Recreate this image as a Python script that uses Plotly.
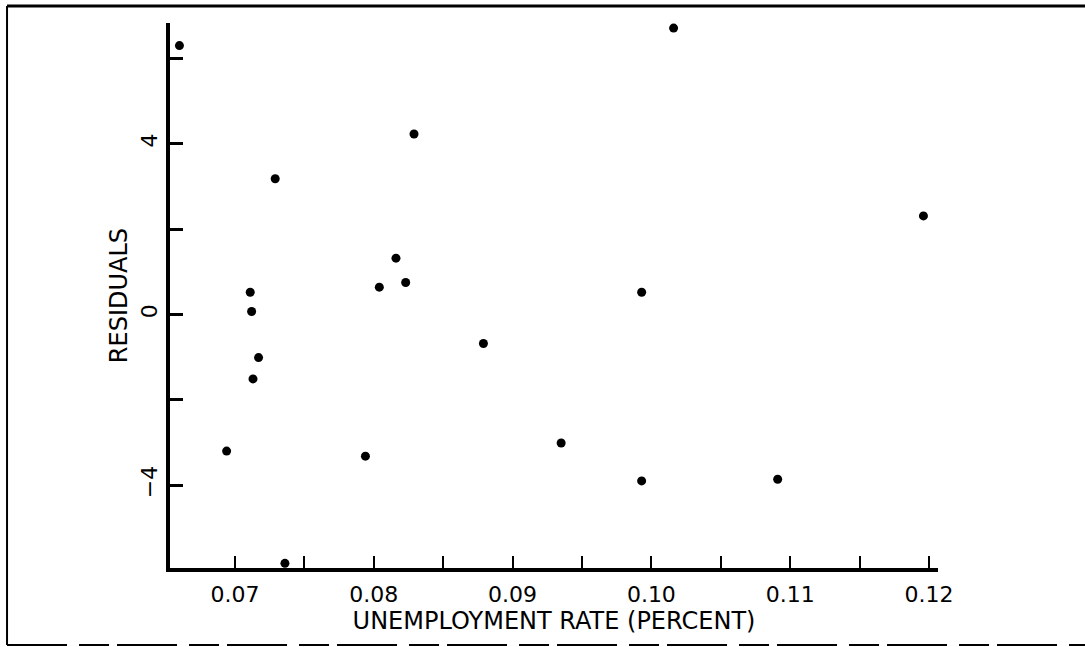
import plotly.graph_objects as go

# Data
unemployment_rate = [0.0660, 0.0729, 0.0829, 0.0816, 0.0804, 0.0823, 0.0711, 0.0712,
                     0.0717, 0.0713, 0.0694, 0.0794, 0.0879, 0.0736, 0.1016, 0.0993,
                     0.0935, 0.0993, 0.1091, 0.1196]
residuals = [6.30, 3.18, 4.23, 1.32, 0.64, 0.75, 0.52, 0.07,
             -1.01, -1.51, -3.20, -3.32, -0.68, -5.83, 6.71, 0.52,
             -3.01, -3.90, -3.86, 2.31]

x_tickvals = [0.07, 0.075, 0.08, 0.085, 0.09, 0.095, 0.10, 0.105, 0.11, 0.115, 0.12]
x_ticktext = ["0.07", "", "0.08", "", "0.09", "", "0.10", "", "0.11", "", "0.12"]
y_tickvals = [-4, -2, 0, 2, 4, 6]
y_ticktext = ["\u22124", "", "0", "", "4", ""]

FONT = "DejaVu Sans"

fig = go.Figure()
fig.add_trace(go.Scatter(
    x=unemployment_rate, y=residuals, mode="markers",
    marker=dict(size=9, color="black", line=dict(width=0)),
    cliponaxis=False, showlegend=False, hoverinfo="skip",
))

fig.update_layout(
    width=1085, height=647, autosize=False,
    margin=dict(l=170, r=147, t=23, b=79, pad=0),
    paper_bgcolor="white", plot_bgcolor="white",
    font=dict(family=FONT, color="black"),
    xaxis=dict(
        range=[0.06532, 0.12065], tickmode="array",
        tickvals=x_tickvals, ticktext=x_ticktext,
        ticks="inside", ticklen=12, tickwidth=2, tickcolor="black",
        showline=True, linewidth=4, linecolor="black",
        showgrid=False, zeroline=False,
        tickfont=dict(family=FONT, size=22, color="black"),
        ticklabelstandoff=4,
        title=dict(text="UNEMPLOYMENT RATE (PERCENT)",
                   font=dict(family=FONT, size=24, color="black"), standoff=2),
    ),
    yaxis=dict(
        range=[-5.94, 6.83], tickmode="array",
        tickvals=y_tickvals, ticktext=y_ticktext, tickangle=-90,
        ticks="inside", ticklen=13, tickwidth=3, tickcolor="black",
        showline=True, linewidth=4, linecolor="black",
        showgrid=False, zeroline=False,
        tickfont=dict(family=FONT, size=22, color="black"),
        ticklabelstandoff=0,
        title=dict(text="RESIDUALS",
                   font=dict(family=FONT, size=24, color="black"), standoff=4),
    ),
    shapes=[
        dict(type="line", xref="paper", yref="paper", x0=-0.2122, x1=1.20,
             y0=1.0312, y1=1.0312, line=dict(color="black", width=3)),
        dict(type="line", xref="paper", yref="paper", x0=-0.2122, x1=-0.2122,
             y0=1.0312, y1=-0.1413, line=dict(color="black", width=2)),
        dict(type="line", xref="paper", yref="paper", x0=-0.2122, x1=1.20,
             y0=-0.1413, y1=-0.1413,
             line=dict(color="black", width=2, dash="60px,12px,30px,8px")),
    ],
)

fig.write_html("out.html")
